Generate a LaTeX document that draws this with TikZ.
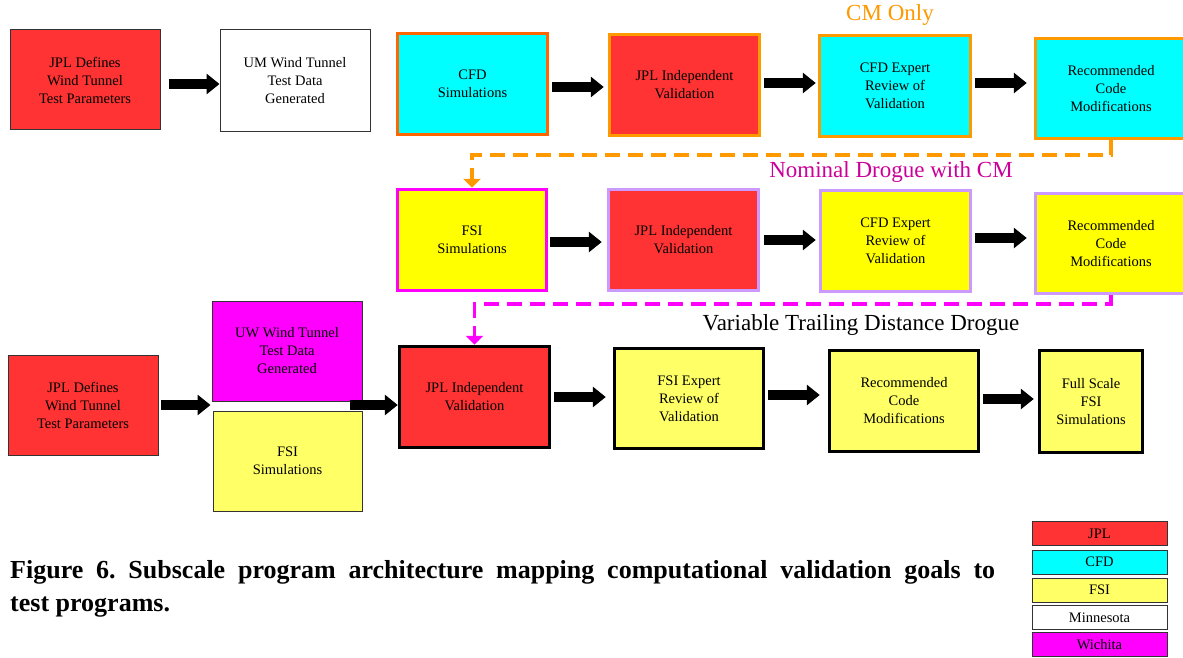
\documentclass[tikz,border=0pt]{standalone}
\usepackage{fontspec}
\setmainfont{Liberation Serif}
\usetikzlibrary{arrows.meta,calc}
\definecolor{jplred}{HTML}{FF3333}
\definecolor{cfdcyan}{HTML}{00FFFF}
\definecolor{fsiyel}{HTML}{FFFF00}
\definecolor{fsilight}{HTML}{FFFF66}
\definecolor{wichmag}{HTML}{FF00FF}
\definecolor{orgA}{HTML}{FF6600}
\definecolor{orgB}{HTML}{FF9900}
\definecolor{lav}{HTML}{CC99FF}
\definecolor{nomtxt}{HTML}{CC0099}
\definecolor{thinb}{HTML}{333333}
\frenchspacing
\begin{document}
\begin{tikzpicture}[x=1pt,y=-1pt,
  box/.style={draw, align=center, inner sep=2pt, text=black, font=\fontsize{14.5}{18}\selectfont},
  sz/.style 2 args={minimum width=#1pt, minimum height=#2pt},
  thinbox/.style={box, draw=thinb, line width=1pt},
  thickbox/.style={box, line width=3.5pt},
  blk/.style={line width=10pt, draw=black, -{Triangle[width=20pt,length=13pt]}},
  dashconn/.style={line width=3.5pt, dash pattern=on 15pt off 8pt, -{Triangle[width=17pt,length=9pt]}},
  leg/.style={draw=thinb, line width=1pt, minimum width=135pt, minimum height=24pt, inner sep=0pt, text=black, font=\fontsize{14.5}{16}\selectfont},
  head/.style={inner sep=0pt, font=\fontsize{23}{26}\selectfont}
]
\useasboundingbox (0,0) rectangle (1183,658);
\clip (0,0) rectangle (1183,658);
\fill[white] (0,0) rectangle (1183,658);

% Row 1
\node[thinbox, sz={150}{100}, fill=jplred] (A) at (85,80) {JPL Defines\\Wind Tunnel\\Test Parameters};
\node[thinbox, sz={150}{102}, fill=white] (B) at (295,81) {UM Wind Tunnel\\Test Data\\Generated};
\node[thickbox, sz={150}{101}, fill=cfdcyan, draw=orgA] (C) at (472.5,84) {CFD\\Simulations};
\node[thickbox, sz={150}{101}, fill=jplred, draw=orgB] (D) at (684.5,85) {JPL Independent\\Validation};
\node[thickbox, sz={151}{101}, fill=cfdcyan, draw=orgB] (E) at (895,86) {CFD Expert\\Review of\\Validation};
\node[thickbox, sz={151}{100}, fill=cfdcyan, draw=orgB] (F) at (1111,88.5) {Recommended\\Code\\Modifications};
\node[head, text=orgB] (cmonly) at (890,15) {CM Only};

% Row 2
\node[thickbox, sz={149}{101}, fill=fsiyel, draw=wichmag] (G) at (472,240) {FSI\\Simulations};
\node[thickbox, sz={150}{101}, fill=jplred, draw=lav] (H) at (683.5,240) {JPL Independent\\Validation};
\node[thickbox, sz={150}{101}, fill=fsiyel, draw=lav] (I) at (895.5,241) {CFD Expert\\Review of\\Validation};
\node[thickbox, sz={151}{100}, fill=fsiyel, draw=lav] (J) at (1111,243.5) {Recommended\\Code\\Modifications};
\node[head, text=nomtxt] (nominal) at (891,172) {Nominal Drogue with CM};

% Row 3
\node[thinbox, sz={150}{100}, fill=jplred] (L) at (83,405) {JPL Defines\\Wind Tunnel\\Test Parameters};
\node[thinbox, sz={150}{100}, fill=wichmag] (M) at (287,351) {UW Wind Tunnel\\Test Data\\Generated};
\node[thinbox, sz={149}{100}, fill=fsilight] (N) at (287.5,461) {FSI\\Simulations};
\node[thickbox, sz={150}{101}, fill=jplred, draw=black] (K) at (474.5,397) {JPL Independent\\Validation};
\node[thickbox, sz={149}{100}, fill=fsilight, draw=black] (O) at (689,398.5) {FSI Expert\\Review of\\Validation};
\node[thickbox, sz={149}{101}, fill=fsilight, draw=black] (P) at (904,401) {Recommended\\Code\\Modifications};
\node[thickbox, sz={103}{102}, fill=fsilight, draw=black] (Q) at (1091,401.5) {Full Scale\\FSI\\Simulations};
\node[head, text=black] (variable) at (861,325) {Variable Trailing Distance Drogue};

% Arrows
\draw[blk, shorten <=8pt] (A.east |- 0,84) -- (B.west |- 0,84);
\draw[blk, shorten <=3pt, shorten >=4pt] (C.east |- 0,87) -- (D.west |- 0,87);
\draw[blk, shorten <=3pt, shorten >=2pt] (D.east |- 0,83) -- (E.west |- 0,83);
\draw[blk, shorten <=3pt, shorten >=7pt] (E.east |- 0,83) -- (F.west |- 0,83);
\draw[blk, shorten <=2pt, shorten >=5pt] (G.east |- 0,242) -- (H.west |- 0,242);
\draw[blk, shorten <=4pt, shorten >=3pt] (H.east |- 0,240) -- (I.west |- 0,240);
\draw[blk, shorten <=3pt, shorten >=7pt] (I.east |- 0,238) -- (J.west |- 0,238);
\draw[blk, shorten <=2pt, shorten >=1pt] (L.east |- 0,405) -- (M.west |- 0,405);
\coordinate (mn) at ($(M.east |- 0,405)+(-13,0)$);
\draw[blk] (mn) -- (K.west |- 0,405);
\draw[blk, shorten <=3pt, shorten >=7pt] (K.east |- 0,397) -- (O.west |- 0,397);
\draw[blk, shorten <=3pt, shorten >=8pt] (O.east |- 0,395) -- (P.west |- 0,395);
\draw[blk, shorten <=3pt, shorten >=4pt] (P.east |- 0,399) -- (Q.west |- 0,399);

% Dashed connectors
\draw[dashconn, draw=orgB] (F.south) -- (F.south |- 0,155) -| (G.north);
\draw[dashconn, draw=wichmag] (J.south) -- (J.south |- 0,304) -| (K.north);

% Legend
\node[leg, fill=jplred] (lj) at (1099.5,533.5) {JPL};
\node[leg, fill=cfdcyan] (lc) at (1099.5,562) {CFD};
\node[leg, fill=fsilight] (lf) at (1099.5,590) {FSI};
\node[leg, fill=white] (lm) at (1099.5,617.5) {Minnesota};
\node[leg, fill=wichmag] (lw) at (1099.5,644.5) {Wichita};

% Caption
\node[anchor=north west, inner sep=0pt, text width=985pt, align=justify, font=\fontsize{26}{33}\selectfont\bfseries] (cap) at (10,560) {Figure 6. Subscale program architecture mapping computational validation goals to\linebreak test programs.};
\end{tikzpicture}
\end{document}
